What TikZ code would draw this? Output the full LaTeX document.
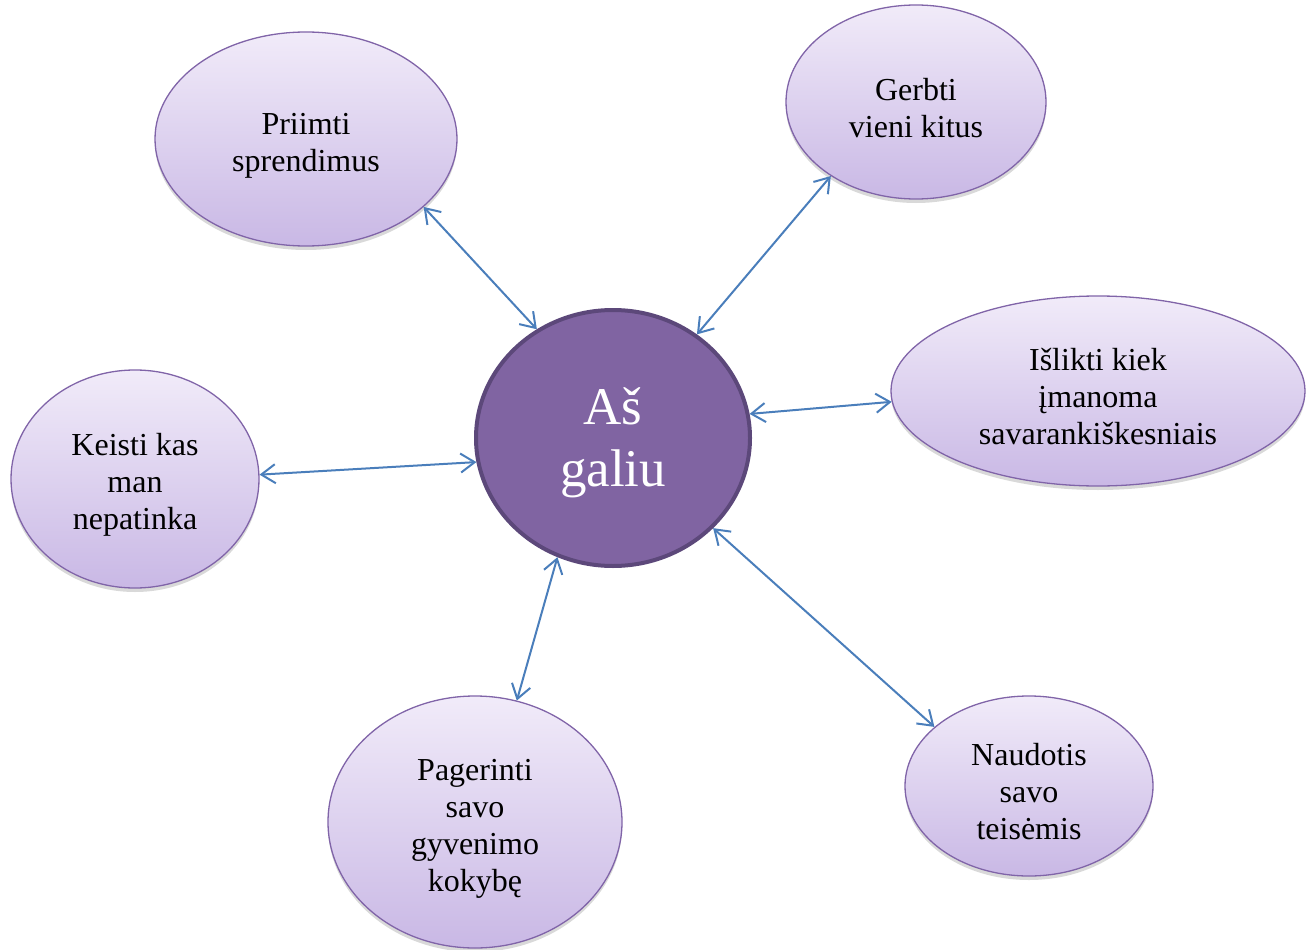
\documentclass[tikz,border=0pt]{standalone}
\usepackage{fontspec}
\setmainfont{Liberation Serif}
\usetikzlibrary{shapes.geometric,arrows.meta,shadows}
\definecolor{ltop}{RGB}{241,235,249}
\definecolor{lbot}{RGB}{201,184,229}
\definecolor{lborder}{RGB}{128,100,168}
\definecolor{cfill}{RGB}{128,100,162}
\definecolor{cborder}{RGB}{92,72,122}
\definecolor{arr}{RGB}{74,126,187}
\newcommand\bstrut{\rule{0pt}{34pt}}
\newcommand\hstrut{\rule{0pt}{47pt}}
\tikzset{
  bubble/.style={ellipse, draw=lborder, line width=1.3pt, top color=ltop, bottom color=lbot,
    inner sep=0pt, align=center, font=\fontsize{32}{37}\selectfont,
    drop shadow={shadow xshift=0pt, shadow yshift=-4pt, opacity=0.25, fill=black!60}},
  hub/.style={ellipse, draw=cborder, line width=4pt, fill=cfill, text=white,
    inner sep=0pt, align=center, font=\fontsize{53}{62}\selectfont},
  link/.style={draw=arr, line width=2pt, {Straight Barb[length=14pt,width=19pt]}-{Straight Barb[length=14pt,width=19pt]}}
}
\begin{document}
\begin{tikzpicture}[x=1pt,y=-1pt]
\useasboundingbox (0,0) rectangle (1310,950);
\node[hub, minimum width=274pt, minimum height=256pt] (c) at (613,438) {\hstrut Aš\\galiu};
\node[bubble, minimum width=302pt, minimum height=214pt] (p) at (306,139) {\bstrut Priimti\\sprendimus};
\node[bubble, minimum width=260pt, minimum height=194pt] (g) at (916,102) {\bstrut Gerbti\\vieni kitus};
\node[bubble, minimum width=414pt, minimum height=190pt] (i) at (1098,391) {\bstrut Išlikti kiek\\įmanoma\\savarankiškesniais};
\node[bubble, minimum width=248pt, minimum height=218pt] (k) at (135,479) {\bstrut Keisti kas\\man\\nepatinka};
\node[bubble, minimum width=294pt, minimum height=252pt] (pg) at (475,822) {\bstrut Pagerinti\\savo\\gyvenimo\\kokybę};
\node[bubble, minimum width=248pt, minimum height=180pt] (n) at (1029,786) {\bstrut Naudotis\\savo\\teisėmis};
\draw[link] (p.-30) -- (c.125);
\draw[link] (g.221) -- (c.51.5);
\draw[link] (i.183) -- (c.10.7);
\draw[link] (k.2.3) -- (c.190);
\draw[link] (pg.71.4) -- (c.245.8);
\draw[link] (n.148.4) -- (c.318);
\end{tikzpicture}
\end{document}
